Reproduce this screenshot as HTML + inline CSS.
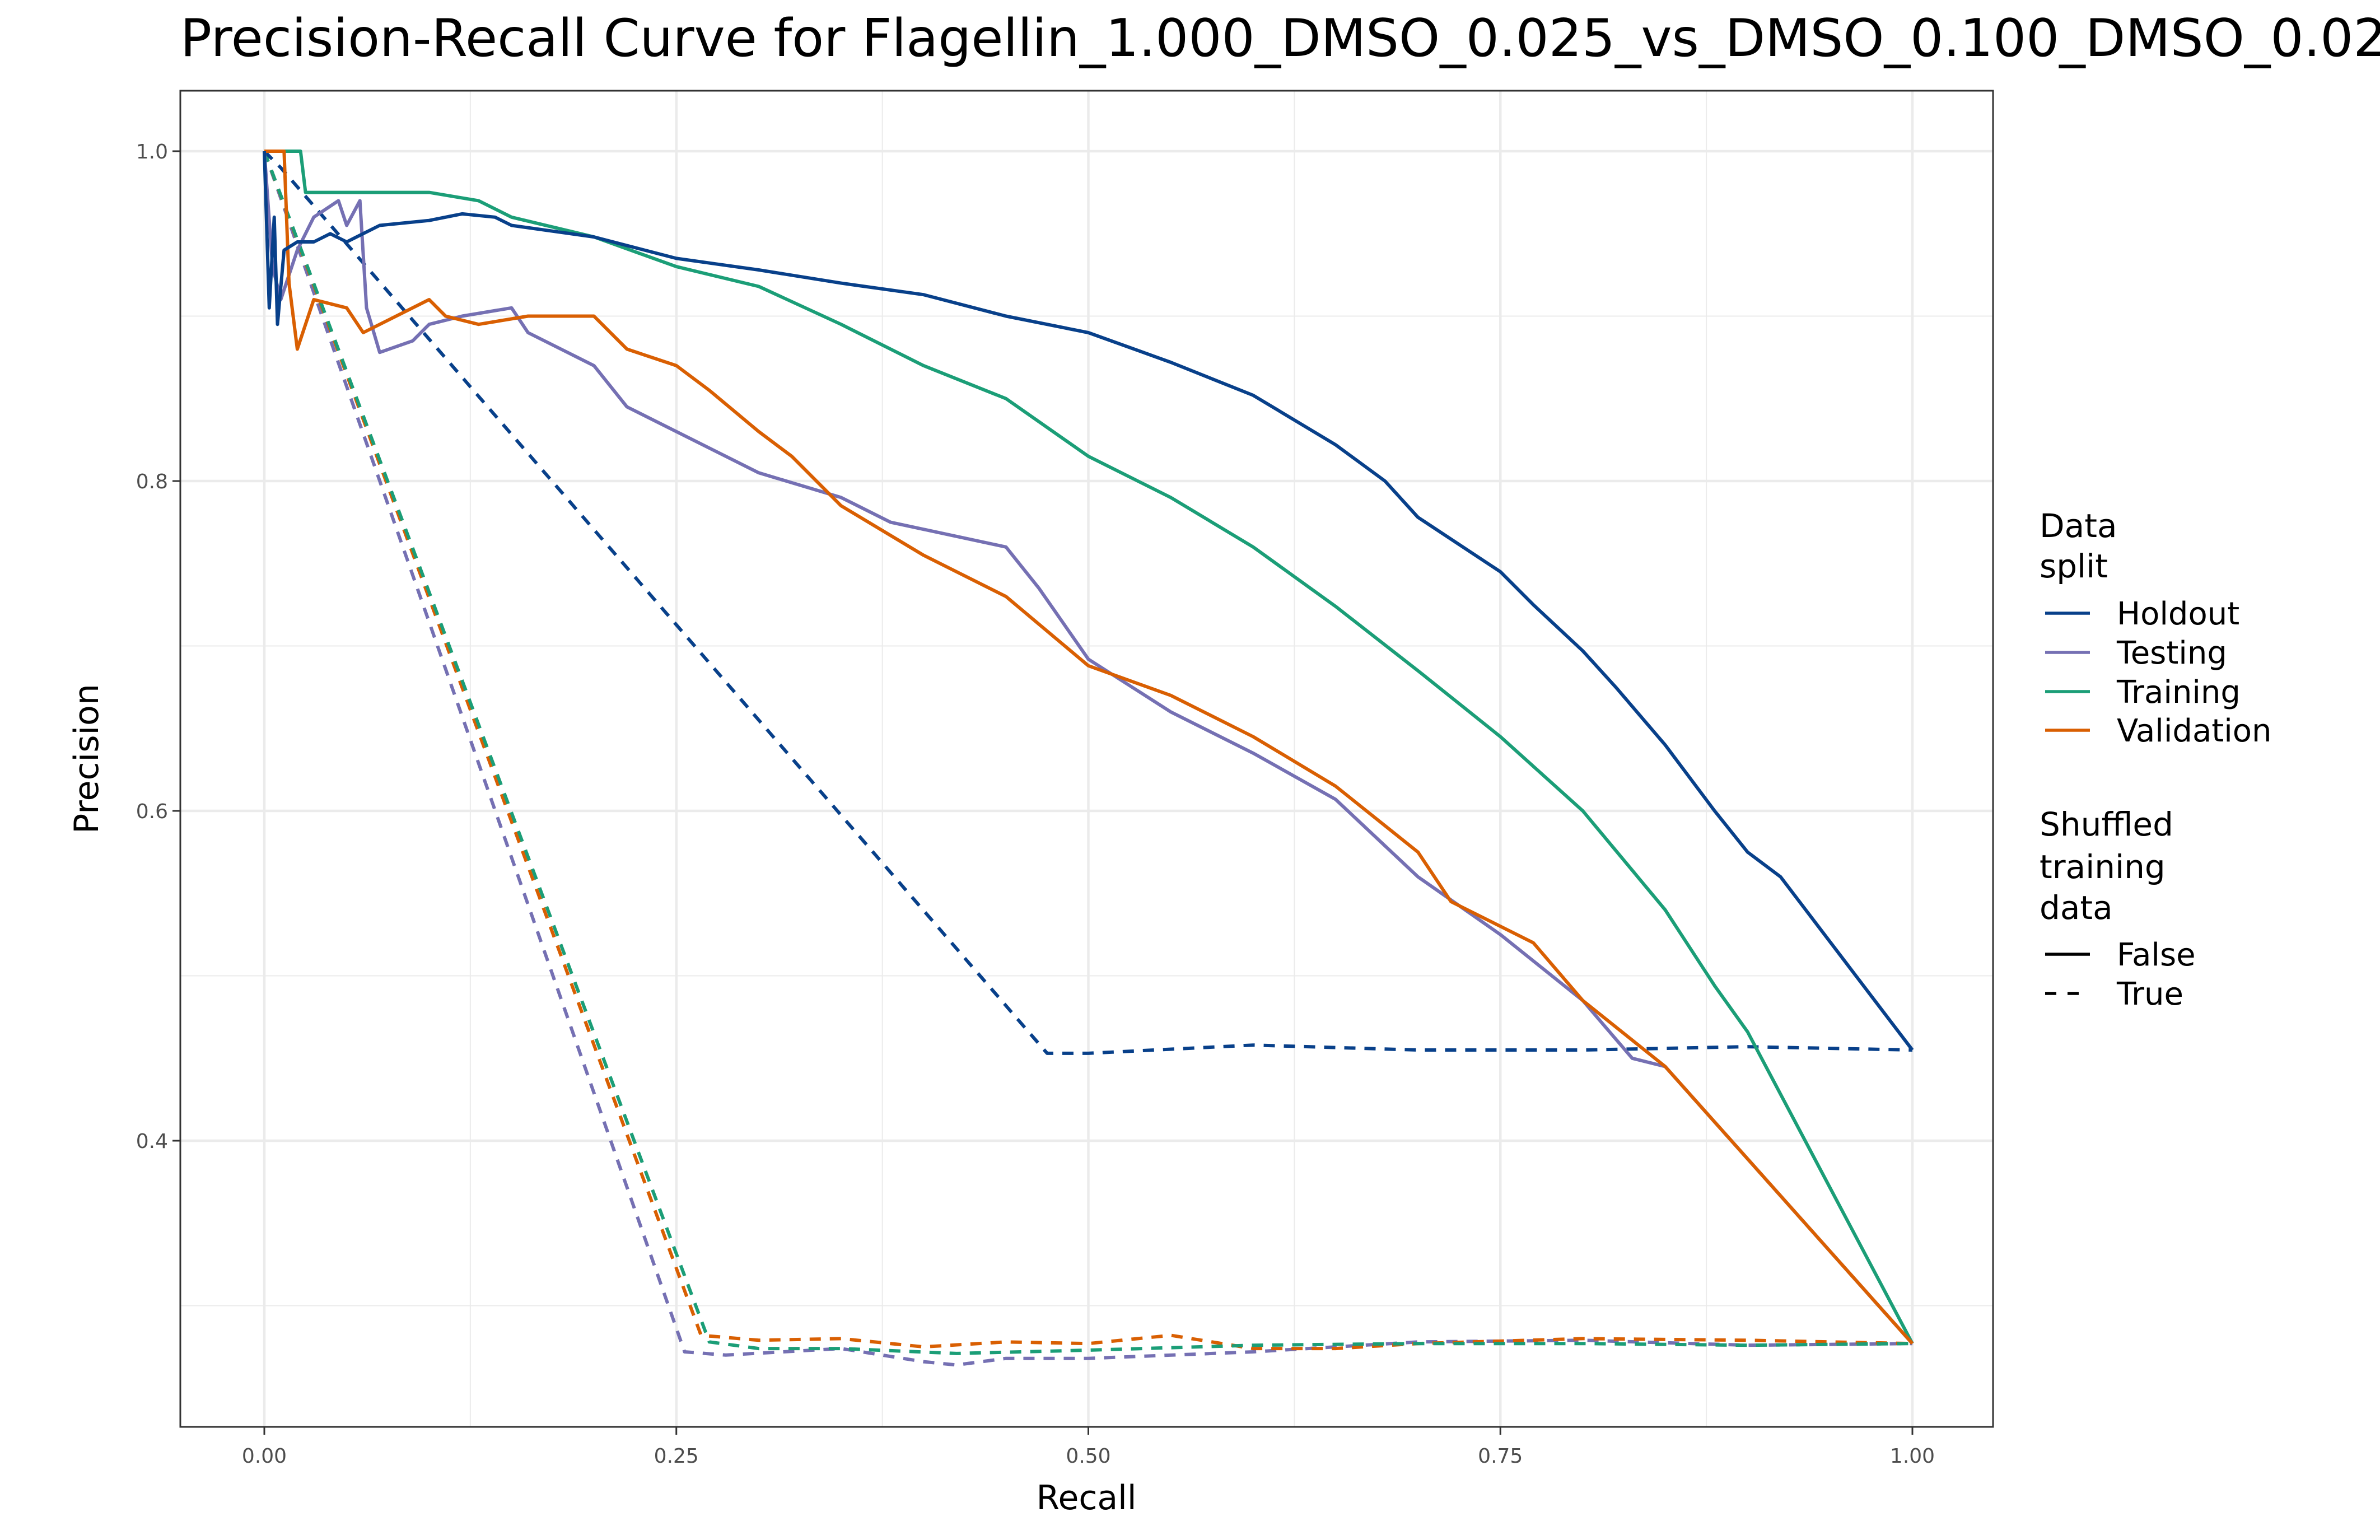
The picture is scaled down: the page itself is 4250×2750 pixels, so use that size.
<!DOCTYPE html>
<html><head><meta charset="utf-8">
<style>
html,body{margin:0;padding:0;background:#fff;}
svg{display:block;font-family:"DejaVu Sans","Liberation Sans",sans-serif;}
</style></head>
<body>
<svg id="chart" width="4250" height="2750" viewBox="0 0 4250 2750" xmlns="http://www.w3.org/2000/svg">
<rect width="4250" height="2750" fill="#fff"/>
<text x="322" y="100" font-size="93" fill="#000">Precision-Recall Curve for Flagellin_1.000_DMSO_0.025_vs_DMSO_0.100_DMSO_0.025</text>
<g id="grid"></g>
<g id="series"></g>
<rect x="322" y="162" width="3237" height="2386" fill="none" stroke="#333" stroke-width="3"/>
<g id="axes"></g>
<text x="1940" y="2695" font-size="60" text-anchor="middle" fill="#000">Recall</text>
<text transform="translate(175,1355) rotate(-90)" font-size="60" text-anchor="middle" fill="#000">Precision</text>
<g id="legend">
<text x="3642" y="959" font-size="58">Data</text>
<text x="3642" y="1031" font-size="58">split</text>
<line x1="3652" y1="1095" x2="3732" y2="1095" stroke="#08408a" stroke-width="5.5"/>
<text x="3780" y="1115" font-size="56">Holdout</text>
<line x1="3652" y1="1165" x2="3732" y2="1165" stroke="#7570b3" stroke-width="5.5"/>
<text x="3780" y="1185" font-size="56">Testing</text>
<line x1="3652" y1="1235" x2="3732" y2="1235" stroke="#1b9e77" stroke-width="5.5"/>
<text x="3780" y="1255" font-size="56">Training</text>
<line x1="3652" y1="1304" x2="3732" y2="1304" stroke="#d95f02" stroke-width="5.5"/>
<text x="3780" y="1324" font-size="56">Validation</text>
<text x="3642" y="1492" font-size="58">Shuffled</text>
<text x="3642" y="1568" font-size="58">training</text>
<text x="3642" y="1641" font-size="58">data</text>
<line x1="3652" y1="1704" x2="3732" y2="1704" stroke="#000" stroke-width="5.5"/>
<text x="3780" y="1724" font-size="56">False</text>
<line x1="3652" y1="1774" x2="3732" y2="1774" stroke="#000" stroke-width="5.5" stroke-dasharray="20,20"/>
<text x="3780" y="1794" font-size="56">True</text>
</g>
</svg>
<script>
const xTicks = [0, 0.25, 0.5, 0.75, 1];
const xTickLabels = ["0.00", "0.25", "0.50", "0.75", "1.00"];
const xMinor = [0.125, 0.375, 0.625, 0.875];
const yTicks = [0.4, 0.6, 0.8, 1.0];
const yTickLabels = ["0.4", "0.6", "0.8", "1.0"];
const yMinor = [0.3, 0.5, 0.7, 0.9];

const holdoutR = [0,0.003,0.006,0.008,0.012,0.02,0.03,0.04,0.05,0.07,0.1,0.12,0.14,0.15,0.2,0.25,0.3,0.35,0.4,0.45,0.5,0.55,0.6,0.65,0.68,0.7,0.75,0.77,0.8,0.82,0.85,0.88,0.9,0.92,1.0];
const holdoutP = [1.0,0.905,0.96,0.895,0.94,0.945,0.945,0.95,0.945,0.955,0.958,0.962,0.96,0.955,0.948,0.935,0.928,0.92,0.913,0.9,0.89,0.872,0.852,0.822,0.8,0.778,0.745,0.725,0.697,0.675,0.64,0.6,0.575,0.56,0.455];
const trainingR = [0,0.01,0.022,0.025,0.05,0.1,0.13,0.15,0.2,0.25,0.3,0.35,0.4,0.45,0.5,0.55,0.6,0.65,0.7,0.75,0.8,0.85,0.88,0.9,1.0];
const trainingP = [1,1,1,0.975,0.975,0.975,0.97,0.96,0.948,0.93,0.918,0.895,0.87,0.85,0.815,0.79,0.76,0.724,0.685,0.645,0.6,0.54,0.494,0.466,0.277];
const testingR = [0,0.005,0.01,0.02,0.03,0.045,0.05,0.058,0.062,0.07,0.09,0.1,0.12,0.15,0.16,0.2,0.22,0.25,0.3,0.35,0.38,0.45,0.47,0.5,0.55,0.6,0.65,0.7,0.75,0.8,0.83,0.85,1.0];
const testingP = [1,0.93,0.91,0.94,0.96,0.97,0.955,0.97,0.905,0.878,0.885,0.895,0.9,0.905,0.89,0.87,0.845,0.83,0.805,0.79,0.775,0.76,0.735,0.692,0.66,0.635,0.607,0.56,0.525,0.485,0.45,0.445,0.277];
const validationR = [0,0.012,0.015,0.02,0.03,0.05,0.06,0.1,0.11,0.13,0.16,0.2,0.22,0.25,0.27,0.3,0.32,0.35,0.4,0.45,0.5,0.55,0.6,0.65,0.7,0.72,0.77,0.8,0.85,1.0];
const validationP = [1,1,0.92,0.88,0.91,0.905,0.89,0.91,0.9,0.895,0.9,0.9,0.88,0.87,0.855,0.83,0.815,0.785,0.755,0.73,0.688,0.67,0.645,0.615,0.575,0.545,0.52,0.485,0.445,0.277];

const holdoutShufR = [0,0.01,0.475,0.5,0.6,0.7,0.8,0.9,1.0];
const holdoutShufP = [1.0,0.99,0.453,0.453,0.458,0.455,0.455,0.457,0.455];
const testingShufR = [0,0.255,0.28,0.35,0.4,0.42,0.45,0.5,0.6,0.7,0.8,0.9,1.0];
const testingShufP = [1.0,0.272,0.27,0.274,0.266,0.264,0.268,0.268,0.272,0.278,0.279,0.276,0.277];
const trainingShufR = [0,0.27,0.3,0.35,0.42,0.5,0.6,0.7,0.8,0.9,1.0];
const trainingShufP = [1.0,0.278,0.274,0.274,0.271,0.273,0.276,0.277,0.277,0.276,0.277];
const validationShufR = [0,0.265,0.3,0.35,0.4,0.45,0.5,0.55,0.6,0.65,0.7,0.8,0.9,1.0];
const validationShufP = [1.0,0.282,0.279,0.28,0.275,0.278,0.277,0.282,0.274,0.274,0.277,0.28,0.279,0.277];

const X0 = 472, X1 = 3415;
const xs = v => X0 + v * (X1 - X0);
const ys = v => 270 + (1 - v) * 2945;
const NS = "http://www.w3.org/2000/svg";
function mk(tag, attrs, parent) {
  const e = document.createElementNS(NS, tag);
  for (const k in attrs) e.setAttribute(k, attrs[k]);
  parent.appendChild(e);
  return e;
}
const grid = document.getElementById('grid');
const axes = document.getElementById('axes');
const series = document.getElementById('series');
const PL = 322, PR = 3559, PT = 162, PB = 2548;

xMinor.forEach(v => {
  const l = mk('line', {x1: xs(v), x2: xs(v), y1: PT, y2: PB, stroke: '#ebebeb', 'stroke-width': 2}, grid);
  
  
});
yMinor.forEach(v => {
  const l = mk('line', {x1: PL, x2: PR, y1: ys(v), y2: ys(v), stroke: '#ebebeb', 'stroke-width': 2}, grid);
  
  
});
xTicks.forEach((v, i) => {
  const l = mk('line', {x1: xs(v), x2: xs(v), y1: PT, y2: PB, stroke: '#ebebeb', 'stroke-width': 4.5}, grid);
  
  
  const t = mk('line', {x1: xs(v), x2: xs(v), y1: PB, y2: PB + 14, stroke: '#333', 'stroke-width': 3}, axes);
  
  
  const tx = mk('text', {x: xs(v), y: PB + 64, 'font-size': 36, fill: '#4d4d4d', 'text-anchor': 'middle'}, axes);
  tx.textContent = xTickLabels[i];
  
  
});
yTicks.forEach((v, i) => {
  const l = mk('line', {x1: PL, x2: PR, y1: ys(v), y2: ys(v), stroke: '#ebebeb', 'stroke-width': 4.5}, grid);
  
  
  const t = mk('line', {x1: PL - 14, x2: PL, y1: ys(v), y2: ys(v), stroke: '#333', 'stroke-width': 3}, axes);
  
  
  const tx = mk('text', {x: PL - 22, y: ys(v) + 13, 'font-size': 36, fill: '#4d4d4d', 'text-anchor': 'end'}, axes);
  tx.textContent = yTickLabels[i];
  
  
});

function drawLine(R, P, color, dashed, name) {
  const d = R.map((r, i) => (i ? 'L' : 'M') + xs(r).toFixed(1) + ',' + ys(P[i]).toFixed(1)).join(' ');
  const attrs = {d: d, fill: 'none', stroke: color, 'stroke-width': 6, 'stroke-linejoin': 'round'};
  if (dashed) attrs['stroke-dasharray'] = '20,16';
  const p = mk('path', attrs, series);
  
  
}
drawLine(testingShufR, testingShufP, '#7570b3', true, 'line-testing-shuffled');
drawLine(validationShufR, validationShufP, '#d95f02', true, 'line-validation-shuffled');
drawLine(trainingShufR, trainingShufP, '#1b9e77', true, 'line-training-shuffled');
drawLine(holdoutShufR, holdoutShufP, '#08408a', true, 'line-holdout-shuffled');
drawLine(trainingR, trainingP, '#1b9e77', false, 'line-training');
drawLine(testingR, testingP, '#7570b3', false, 'line-testing');
drawLine(validationR, validationP, '#d95f02', false, 'line-validation');
drawLine(holdoutR, holdoutP, '#08408a', false, 'line-holdout');
</script>
</body></html>
